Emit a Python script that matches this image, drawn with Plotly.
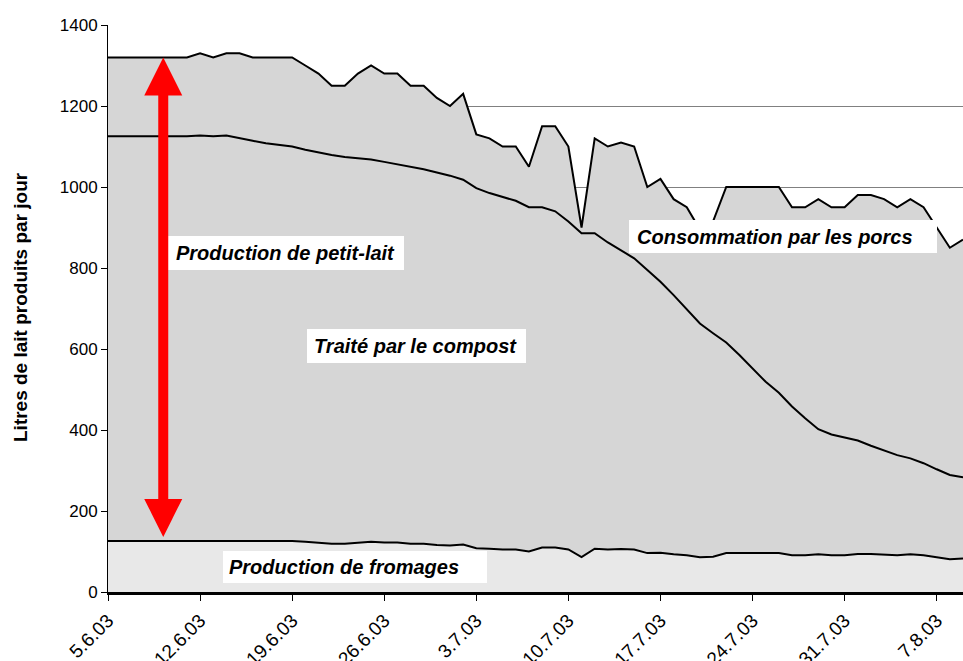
import plotly.graph_objects as go

# ---- data (day index from 5.6.03) ----
days = list(range(66))
tick_days = [0, 7, 14, 21, 28, 35, 42, 49, 56, 63]
tick_labels = ["5.6.03", "12.6.03", "19.6.03", "26.6.03", "3.7.03",
               "10.7.03", "17.7.03", "24.7.03", "31.7.03", "7.8.03"]

# total milk production (top line)
lait_total = [1320, 1320, 1320, 1320, 1320, 1320, 1320, 1330, 1320, 1330,
              1330, 1320, 1320, 1320, 1320, 1300, 1280, 1250, 1250, 1280,
              1300, 1280, 1280, 1250, 1250, 1220, 1200, 1230, 1130, 1120,
              1100, 1100, 1050, 1150, 1150, 1100, 900, 1120, 1100, 1110,
              1100, 1000, 1020, 970, 950, 895, 915, 1000, 1000, 1000,
              1000, 1000, 950, 950, 970, 950, 950, 980, 980, 970,
              950, 970, 950, 900, 850, 870]

# boundary compost / pigs (middle line)
compost_limite = [1125, 1125, 1125, 1125, 1125, 1125, 1125, 1127, 1125, 1127,
                  1120, 1114, 1108, 1104, 1100, 1092, 1085, 1079, 1074, 1071,
                  1068, 1062, 1056, 1050, 1044, 1036, 1028, 1018, 997, 985,
                  975, 966, 950, 950, 940, 915, 886, 886, 863, 844,
                  824, 795, 766, 733, 698, 663, 639, 616, 585, 552,
                  519, 492, 458, 429, 402, 389, 381, 374, 361, 349,
                  338, 330, 318, 303, 289, 283]

# cheese production (bottom line)
fromages = [126, 126, 126, 126, 126, 126, 126, 127, 126, 127,
            127, 126, 126, 126, 126, 124, 122, 119, 119, 122,
            124, 122, 122, 119, 119, 116, 115, 117, 108, 107,
            105, 105, 100, 110, 110, 105, 86, 107, 105, 106,
            105, 96, 97, 93, 91, 86, 87, 96, 96, 96,
            96, 96, 91, 91, 93, 91, 91, 94, 94, 93,
            91, 93, 91, 86, 81, 83]

labels = ["Production de petit-lait", "Traité par le compost",
          "Consommation par les porcs", "Production de fromages"]
y_title = "Litres de lait produits par jour"

# ---- layout geometry (pixels) ----
W, H = 963, 661
L, R, T, B = 108, 0, 25, 69
PW, PH = W - L - R, H - T - B
XMAX, YMAX = 65, 1400


def px(xp):
    return (xp - L) / PW


def py(yp):
    return (H - B - yp) / PH


fig = go.Figure()
line = dict(color="black", width=2)
fig.add_trace(go.Scatter(x=days, y=fromages, mode="lines", line=line,
                         fill="tozeroy", fillcolor="#e8e8e8",
                         hoverinfo="skip", showlegend=False))
fig.add_trace(go.Scatter(x=days, y=compost_limite, mode="lines", line=line,
                         fill="tonexty", fillcolor="#d6d6d6",
                         hoverinfo="skip", showlegend=False))
fig.add_trace(go.Scatter(x=days, y=lait_total, mode="lines", line=line,
                         fill="tonexty", fillcolor="#d6d6d6",
                         hoverinfo="skip", showlegend=False))

shapes = []
annotations = []

# label boxes: (x0, y0, x1, y1, text_x)
boxes = [(168, 236, 404, 270, 174),
         (307, 329, 526, 363, 312),
         (629, 220, 937, 253, 635),
         (223, 551, 487, 583, 227)]
for (x0, y0, x1, y1, tx), txt in zip(boxes, labels):
    shapes.append(dict(type="rect", xref="paper", yref="paper",
                       x0=px(x0), x1=px(x1), y0=py(y1), y1=py(y0),
                       fillcolor="white", line=dict(width=0), layer="above"))
    annotations.append(dict(xref="paper", yref="paper", x=px(tx), y=py((y0 + y1) / 2),
                            xanchor="left", yanchor="middle", showarrow=False,
                            text="<b><i>" + txt + "</i></b>",
                            font=dict(family="Arial", size=20, color="black")))

# y-axis title
annotations.append(dict(xref="paper", yref="paper", x=px(20), y=py(307),
                        xanchor="center", yanchor="middle", showarrow=False,
                        textangle=-90, text="<b>" + y_title + "</b>",
                        font=dict(family="Arial", size=19, color="black")))

# red double arrow (data coords)
ax = 4.2
dx_head = 19 / (PW / XMAX)
dy_head = 38 / (PH / YMAX)
dx_shaft = 5 / (PW / XMAX)
ytop = lait_total[0]
ybot = fromages[0] + 10
shapes.append(dict(type="rect", xref="x", yref="y",
                   x0=ax - dx_shaft, x1=ax + dx_shaft,
                   y0=ybot + dy_head - 2, y1=ytop - dy_head + 2,
                   fillcolor="red", line=dict(width=0), layer="above"))
shapes.append(dict(type="path", xref="x", yref="y",
                   path=f"M {ax - dx_head} {ytop - dy_head} L {ax + dx_head} {ytop - dy_head} L {ax} {ytop} Z",
                   fillcolor="red", line=dict(width=0), layer="above"))
shapes.append(dict(type="path", xref="x", yref="y",
                   path=f"M {ax - dx_head} {ybot + dy_head} L {ax + dx_head} {ybot + dy_head} L {ax} {ybot} Z",
                   fillcolor="red", line=dict(width=0), layer="above"))

fig.update_layout(
    width=W, height=H,
    margin=dict(l=L, r=R, t=T, b=B, pad=0, autoexpand=False),
    paper_bgcolor="white", plot_bgcolor="white",
    shapes=shapes, annotations=annotations,
    font=dict(family="Arial", color="black"),
)
fig.update_xaxes(range=[0, XMAX], tickmode="array", tickvals=tick_days,
                 ticktext=tick_labels, tickangle=-45, ticks="outside",
                 ticklen=6, tickcolor="black", tickwidth=1,
                 ticklabelstandoff=1,
                 showline=True, linecolor="black", linewidth=3,
                 showgrid=False, zeroline=False, automargin=False,
                 tickfont=dict(family="Arial", size=19, color="black"))
fig.update_yaxes(range=[0, YMAX], tickvals=[0, 200, 400, 600, 800, 1000, 1200, 1400],
                 ticks="outside", ticklen=6, tickcolor="black", tickwidth=1,
                 showline=True, linecolor="black", linewidth=1,
                 showgrid=True, gridcolor="#808080", gridwidth=1,
                 zeroline=False, automargin=False,
                 tickfont=dict(family="Arial", size=17, color="black"))

fig.write_html("out.html",
               config={"displayModeBar": False},
               post_script="document.body.style.margin='0';"
                           "document.body.style.overflow='hidden';")
